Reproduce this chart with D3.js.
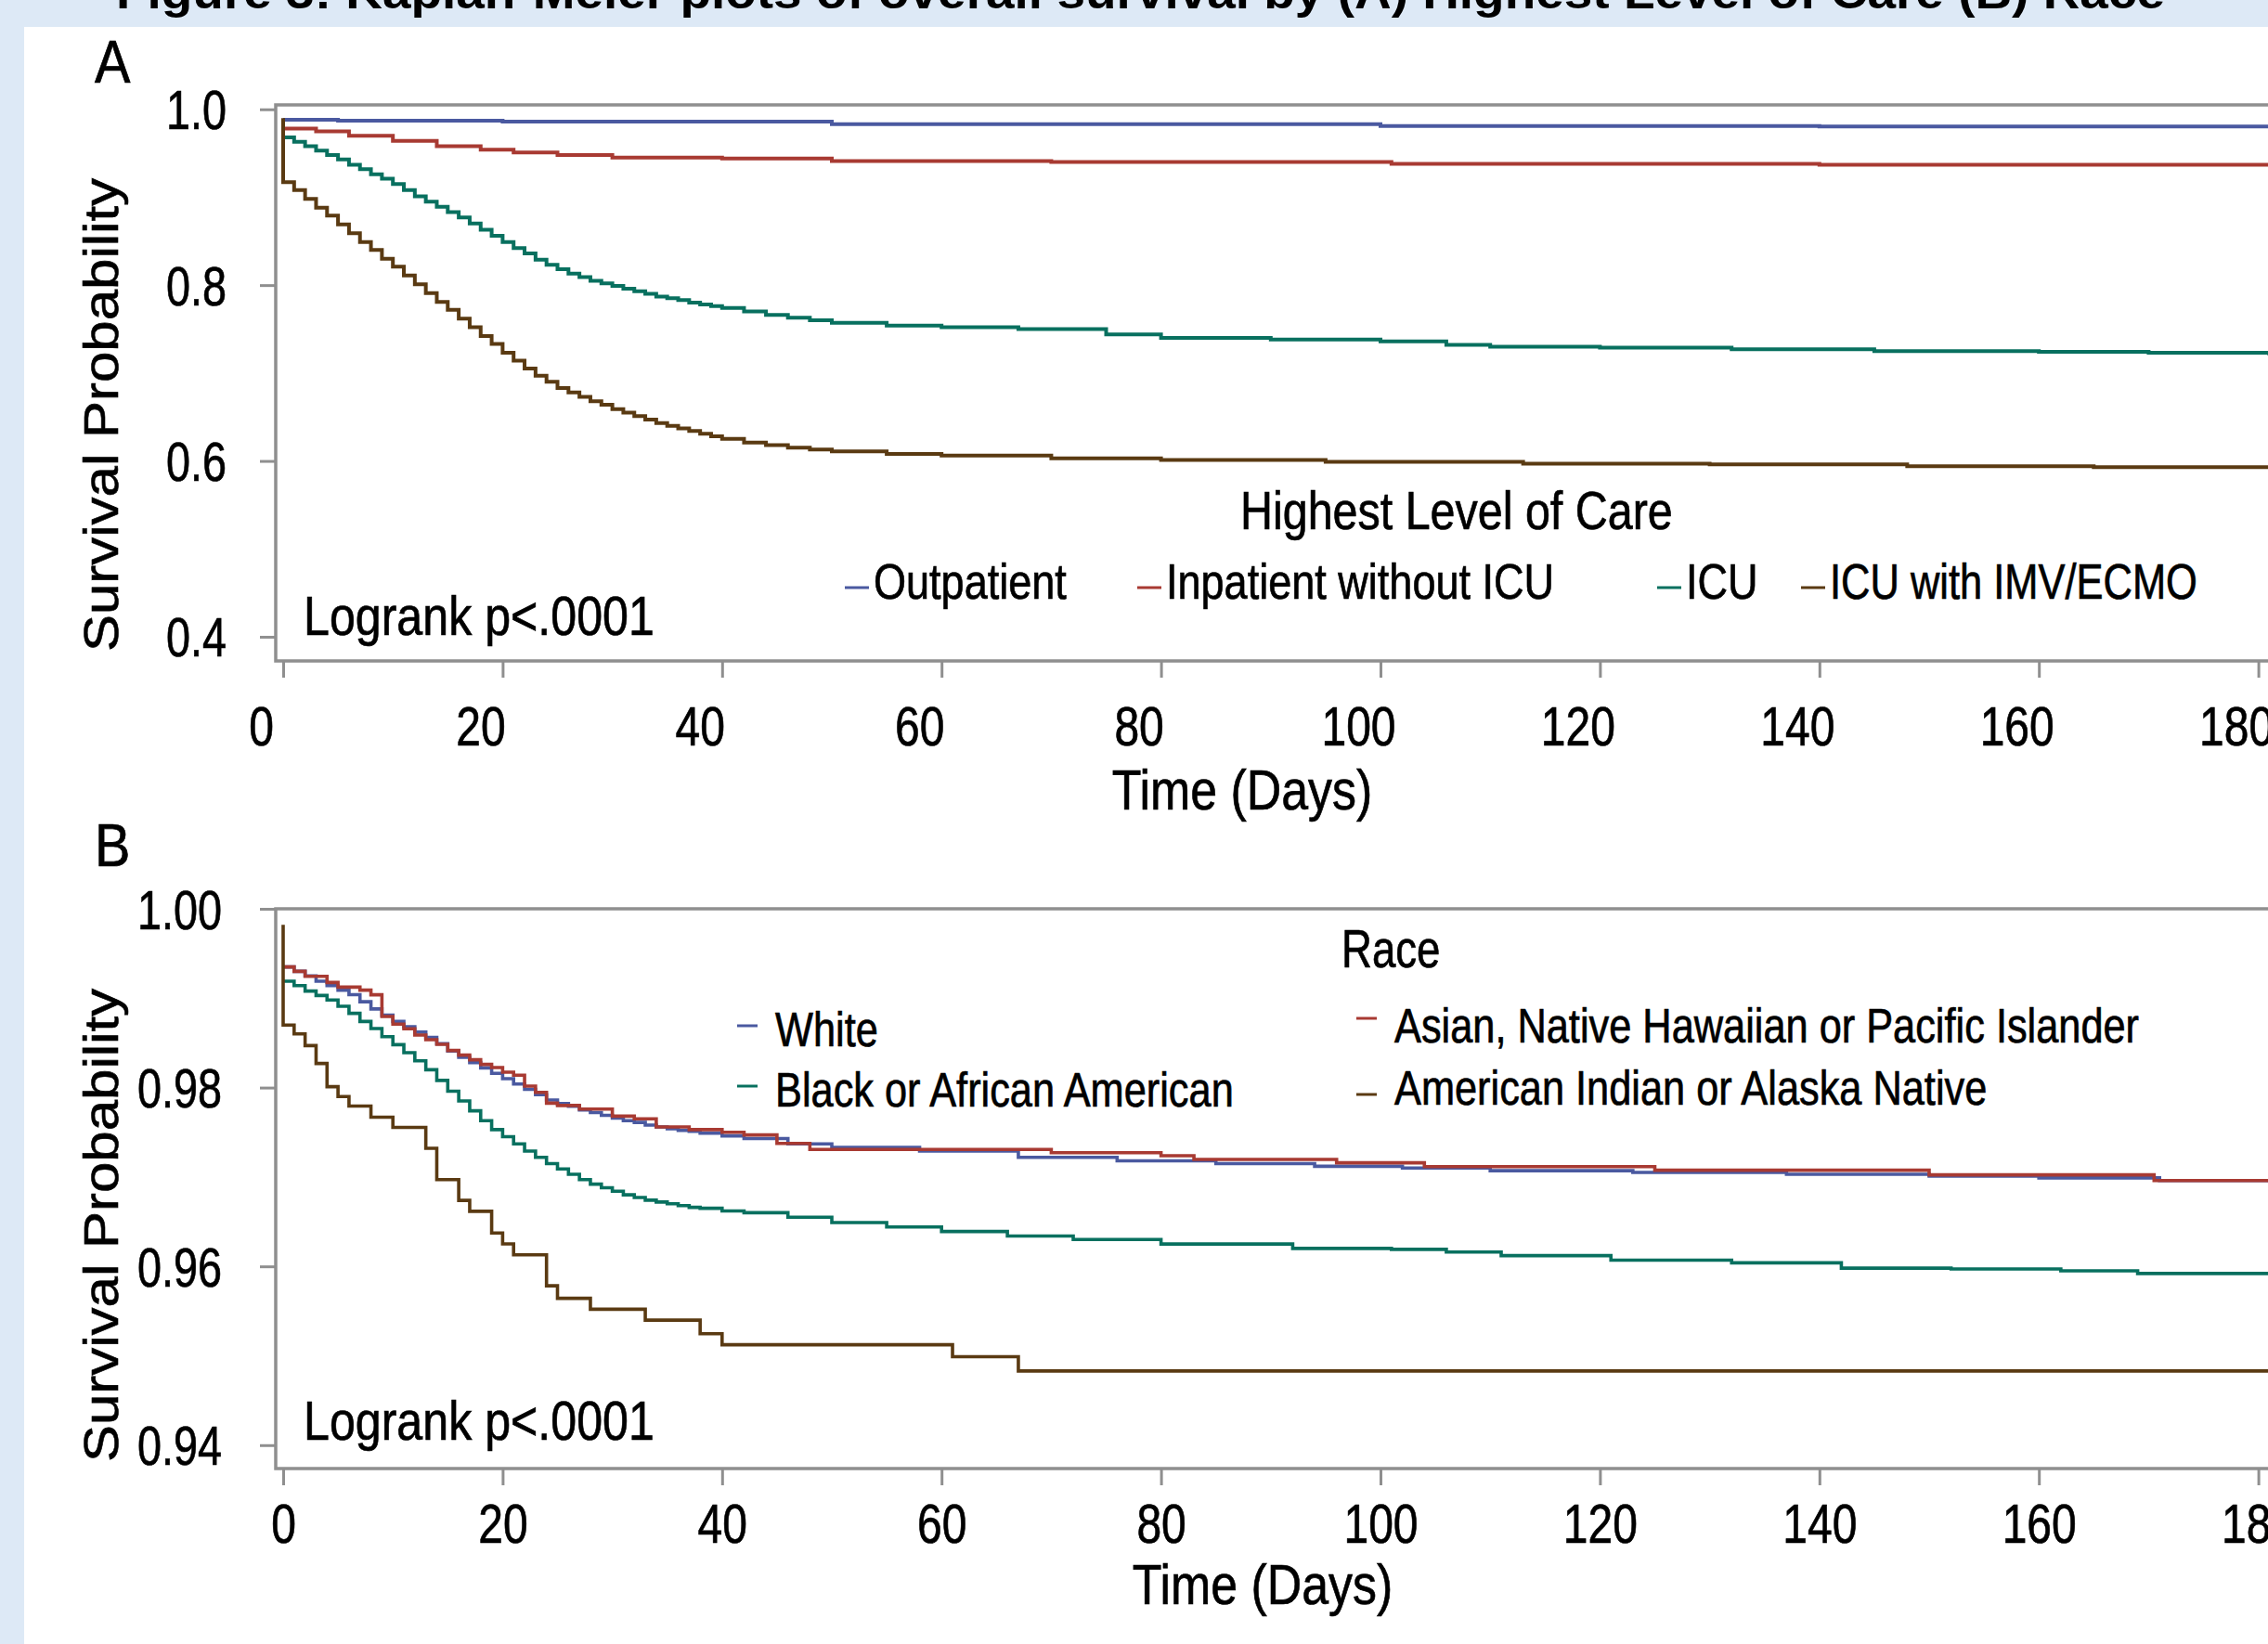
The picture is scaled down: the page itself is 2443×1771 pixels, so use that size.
<!DOCTYPE html>
<html>
<head>
<meta charset="utf-8">
<script src="https://cdn.jsdelivr.net/npm/d3@7"></script>
<style>
  html, body { margin: 0; padding: 0; background: #dde9f6; }
  svg { display: block; }
</style>
</head>
<body>
<div id="viz"></div>
<script>
// Kaplan-Meier survival curves.
// Each series is a list of [day, survival probability] steps.

const TITLE = "Figure 3: Kaplan-Meier plots of overall survival by (A) Highest Level of Care (B) Race";
const DAY_TICKS = [0, 20, 40, 60, 80, 100, 120, 140, 160, 180];
const TICKS_A = [0.4, 0.6, 0.8, 1.0];
const TICKS_B = [0.94, 0.96, 0.98, 1.00];

const CARE_LABELS = ["Outpatient", "Inpatient without ICU", "ICU", "ICU with IMV/ECMO"];
const RACE_LABELS = ["White", "Asian, Native Hawaiian or Pacific Islander",
  "Black or African American", "American Indian or Alaska Native"];

// Panel A: highest level of care
const OUTPATIENT = [[0, 0.988], [5, 0.987], [20, 0.986], [50, 0.983], [100, 0.981], [140, 0.9805], [181, 0.980]];
const INPATIENT = [[0, 0.978], [3, 0.975], [6, 0.970], [10, 0.964], [14, 0.958], [18, 0.954], [21, 0.951],
  [25, 0.948], [30, 0.945], [40, 0.944], [50, 0.941], [70, 0.940], [101, 0.938], [140, 0.937], [181, 0.935]];
const ICU = [[0, 0.968], [1, 0.963], [2, 0.958], [3, 0.953], [4, 0.948], [5, 0.943], [6, 0.937], [7, 0.932],
  [8, 0.926], [9, 0.921], [10, 0.915], [11, 0.908], [12, 0.901], [13, 0.895], [14, 0.889], [15, 0.883],
  [16, 0.877], [17, 0.870], [18, 0.863], [19, 0.856], [20, 0.849], [21, 0.842], [22, 0.836], [23, 0.829],
  [24, 0.823], [25, 0.818], [26, 0.813], [27, 0.809], [28, 0.805], [29, 0.802], [30, 0.799], [31, 0.796],
  [32, 0.793], [33, 0.790], [34, 0.787], [35, 0.785], [36, 0.783], [37, 0.780], [38, 0.778], [39, 0.776],
  [40, 0.774], [42, 0.770], [44, 0.766], [46, 0.763], [48, 0.760], [50, 0.757], [55, 0.754], [60, 0.752],
  [67, 0.750], [75, 0.744], [80, 0.740], [90, 0.738], [100, 0.736], [106, 0.732], [110, 0.730], [120, 0.729],
  [132, 0.727], [145, 0.725], [160, 0.724], [170, 0.723], [181, 0.720]];
const ICU_IMV = [[0, 0.990], [0, 0.917], [1, 0.908], [2, 0.898], [3, 0.888], [4, 0.879], [5, 0.869], [6, 0.859],
  [7, 0.849], [8, 0.840], [9, 0.830], [10, 0.821], [11, 0.811], [12, 0.801], [13, 0.791], [14, 0.781],
  [15, 0.772], [16, 0.762], [17, 0.752], [18, 0.742], [19, 0.733], [20, 0.723], [21, 0.714], [22, 0.705],
  [23, 0.697], [24, 0.690], [25, 0.683], [26, 0.678], [27, 0.673], [28, 0.668], [29, 0.664], [30, 0.659],
  [31, 0.655], [32, 0.651], [33, 0.647], [34, 0.643], [35, 0.640], [36, 0.637], [37, 0.634], [38, 0.631],
  [39, 0.628], [40, 0.625], [42, 0.621], [44, 0.618], [46, 0.615], [48, 0.613], [50, 0.611], [55, 0.608],
  [60, 0.606], [70, 0.603], [80, 0.601], [95, 0.599], [113, 0.597], [130, 0.596], [148, 0.594], [165, 0.593],
  [181, 0.592]];

// Panel B: race
const WHITE = [[0, 0.9935], [1, 0.9930], [2, 0.9925], [3, 0.9919], [4, 0.9914], [5, 0.9909], [6, 0.9904],
  [7, 0.9896], [8, 0.9888], [9, 0.9881], [10, 0.9874], [11, 0.9868], [12, 0.9862], [13, 0.9856], [14, 0.9849],
  [15, 0.9841], [16, 0.9834], [17, 0.9828], [18, 0.9822], [19, 0.9816], [20, 0.9810], [21, 0.9804],
  [22, 0.9798], [23, 0.9792], [24, 0.9786], [25, 0.9782], [26, 0.9779], [27, 0.9775], [28, 0.9772],
  [29, 0.9769], [30, 0.9766], [31, 0.9763], [32, 0.9761], [33, 0.9758], [34, 0.9756], [35, 0.9754],
  [36, 0.9752], [37, 0.9751], [38, 0.9749], [40, 0.9746], [42, 0.9743], [46, 0.9737], [50, 0.9733],
  [58, 0.9729], [67, 0.9722], [76, 0.9718], [85, 0.9715], [94, 0.9712], [102, 0.9710], [110, 0.9707],
  [123, 0.9705], [137, 0.9703], [150, 0.9701], [160, 0.9699], [171, 0.9696], [181, 0.9694]];
const ASIAN = [[0, 0.9935], [1, 0.9930], [2, 0.99245], [4, 0.99176], [5, 0.99124], [7, 0.9909], [8, 0.99038],
  [9, 0.98795], [10, 0.98709], [11, 0.98657], [12, 0.98588], [13, 0.98536], [14, 0.98484], [15, 0.98415],
  [16, 0.98363], [17, 0.98311], [18, 0.98259], [19, 0.98224], [20, 0.98172], [21, 0.98138], [22, 0.98017],
  [23, 0.97947], [24, 0.97826], [25, 0.9780], [27, 0.9776], [30, 0.9768], [32, 0.9765], [34, 0.9756],
  [37, 0.9753], [40, 0.9750], [42, 0.9747], [45, 0.97376], [48, 0.97307], [70, 0.97272], [80, 0.97238],
  [83, 0.97196], [96, 0.97158], [104, 0.97116], [125, 0.97075], [150, 0.97023], [170.5, 0.9696], [181, 0.9696]];
const BLACK = [[0, 0.9919], [1, 0.9914], [2, 0.9908], [3, 0.9903], [4, 0.9898], [5, 0.9891], [6, 0.9883],
  [7, 0.9874], [8, 0.9866], [9, 0.9857], [10, 0.9848], [11, 0.9839], [12, 0.9830], [13, 0.9820], [14, 0.9808],
  [15, 0.9796], [16, 0.9785], [17, 0.9774], [18, 0.9763], [19, 0.9753], [20, 0.9745], [21, 0.9737],
  [22, 0.9729], [23, 0.9722], [24, 0.9715], [25, 0.9709], [26, 0.9703], [27, 0.9697], [28, 0.9692],
  [29, 0.9688], [30, 0.9684], [31, 0.9680], [32, 0.9677], [33, 0.9674], [34, 0.9672], [35, 0.9670],
  [36, 0.9668], [37, 0.9666], [38, 0.9665], [40, 0.9662], [42, 0.9660], [46, 0.9655], [50, 0.9649],
  [55, 0.9644], [60, 0.9639], [66, 0.9634], [72, 0.9630], [80, 0.9625], [92, 0.9620], [101, 0.9619],
  [106, 0.9616], [111, 0.9612], [121, 0.9607], [132, 0.9604], [142, 0.9598], [152, 0.9597], [162, 0.9595],
  [169, 0.9592], [181, 0.9591]];
const AMERICAN_INDIAN = [[0, 0.9982], [0, 0.98700], [1, 0.98600], [2, 0.98470], [3, 0.98270], [4, 0.98010],
  [5, 0.97900], [6, 0.97793], [8, 0.97668], [10, 0.97555], [13, 0.97320], [14, 0.96970], [16, 0.96738],
  [17, 0.96616], [19, 0.96373], [20, 0.96251], [21, 0.96129], [24, 0.95782], [25, 0.95642], [28, 0.95520],
  [33, 0.95398], [38, 0.95246], [40, 0.95123], [61, 0.9499], [67, 0.9483], [181, 0.9483]];

const W = 2443, H = 1771;
const SX = 0.85;   // the poster image is squeezed horizontally
const FONT = "'Liberation Sans', Arial, Helvetica, sans-serif";
const COLORS = ["#4a59a0", "#a83a32", "#08705f", "#5a3a12"];
const FRAME = "#8f8f8f";

const svg = d3.select("#viz").append("svg")
  .attr("width", W)
  .attr("height", H)
  .style("font-family", FONT);

svg.append("rect").attr("width", W).attr("height", H).attr("fill", "#dde9f6");
svg.append("rect").attr("x", 26).attr("y", 29).attr("width", W - 26).attr("height", H - 29).attr("fill", "#fff");

// Poster heading, mostly cut off by the top edge.
svg.append("text")
  .attr("x", 125)
  .attr("y", 9)
  .attr("font-size", 50)
  .attr("font-weight", "bold")
  .attr("textLength", 2207)
  .attr("lengthAdjust", "spacingAndGlyphs")
  .attr("fill", "#000")
  .text(TITLE);

// text is slightly heavier than the plain face in the (resampled) poster
function heavy(sel) {
  return sel.attr("fill", "#000").attr("stroke", "#000").attr("stroke-width", 0.7);
}

function label(parent, x, y, s, size, anchor = "start", sx = SX) {
  return parent.append("text")
    .attr("transform", `translate(${x},${y}) scale(${sx},1)`)
    .attr("text-anchor", anchor)
    .attr("font-size", size)
    .call(heavy)
    .text(s);
}

function drawPanel(p) {
  const g = svg.append("g");
  const x = d3.scaleLinear().domain([0, 180]).range([305, 2432.6]);
  const y = d3.scaleLinear().domain(p.yDomain).range([p.bottom, p.top]);
  const left = x(0) - 8;

  // y axis ticks
  g.append("g")
    .attr("transform", `translate(${left},0)`)
    .call(d3.axisLeft(y).tickValues(p.yTicks).tickSize(17).tickFormat(d3.format(p.yFormat)))
    .call(a => a.select(".domain").remove())
    .call(a => a.selectAll("line").attr("stroke", FRAME).attr("stroke-width", 3))
    .call(a => a.selectAll("text")
      .attr("x", null).attr("dy", null)
      .attr("transform", `translate(${p.yLabelRight - left},${21}) scale(0.78,1)`)
      .attr("font-size", 60).attr("font-family", FONT).call(heavy));

  // x axis ticks
  g.append("g")
    .attr("transform", `translate(0,${p.bottom})`)
    .call(d3.axisBottom(x).tickValues(DAY_TICKS).tickSize(18))
    .call(a => a.select(".domain").remove())
    .call(a => a.selectAll("line").attr("stroke", FRAME).attr("stroke-width", 3))
    .call(a => a.selectAll("text")
      .attr("y", null).attr("dy", null)
      .attr("transform", `translate(${p.xLabelShift},${p.xLabelBase - p.bottom}) scale(0.8,1)`)
      .attr("font-size", 60).attr("font-family", FONT).call(heavy));

  // plot frame: left, top and bottom edges (the right edge is cut off)
  g.append("path")
    .attr("d", `M${W + 10},${p.top}H${left}V${p.bottom}H${W + 10}`)
    .attr("fill", "none")
    .attr("stroke", FRAME)
    .attr("stroke-width", 3.5);

  const line = d3.line()
    .x(d => x(d[0]))
    .y(d => y(d[1]))
    .curve(d3.curveStepAfter);

  g.append("g")
    .selectAll("path")
    .data(p.series)
    .join("path")
    .attr("d", d => line(d.values))
    .attr("fill", "none")
    .attr("stroke", d => d.color)
    .attr("stroke-width", p.lineWidth)
    .attr("stroke-linejoin", "miter");

  label(g, 327, p.logrankBase, "Logrank p<.0001", 59);
  label(g, p.xTitleX, p.xTitleBase, "Time (Days)", 61, "middle");
  g.append("text")
    .attr("transform", `translate(127,${p.yTitleY}) scale(${SX},1) rotate(-90)`)
    .attr("text-anchor", "middle")
    .attr("font-size", 60)
    .call(heavy)
    .text("Survival Probability");
  label(g, 102, p.letterBase, p.letter, 64, "start", 0.9);
  return g;
}

const gA = drawPanel({
  letter: "A", letterBase: 89,
  yDomain: [0.3725, 1.005], top: 113, bottom: 712,
  yTicks: TICKS_A, yFormat: ".1f", yLabelRight: 244,
  xLabelShift: -24, xLabelBase: 803,
  xTitleX: 1338, xTitleBase: 872,
  yTitleY: 447, logrankBase: 684, lineWidth: 4,
  series: [
    { values: OUTPATIENT, color: COLORS[0] },
    { values: INPATIENT, color: COLORS[1] },
    { values: ICU, color: COLORS[2] },
    { values: ICU_IMV, color: COLORS[3] }
  ]
});

const gB = drawPanel({
  letter: "B", letterBase: 933,
  yDomain: [0.93738, 1.0], top: 979, bottom: 1582,
  yTicks: TICKS_B, yFormat: ".2f", yLabelRight: 239,
  xLabelShift: 0, xLabelBase: 1662,
  xTitleX: 1360, xTitleBase: 1728,
  yTitleY: 1320, logrankBase: 1551, lineWidth: 3.6,
  series: [
    { values: WHITE, color: COLORS[0] },
    { values: BLACK, color: COLORS[2] },
    { values: ASIAN, color: COLORS[1] },
    { values: AMERICAN_INDIAN, color: COLORS[3] }
  ]
});

// Legend A: one row, dash attached to the label
label(gA, 1336, 570, "Highest Level of Care", 57);
const legendAX = [910, 1225, 1785, 1940];
CARE_LABELS.forEach((s, i) => {
  gA.append("line")
    .attr("x1", legendAX[i]).attr("x2", legendAX[i] + 26)
    .attr("y1", 633).attr("y2", 633)
    .attr("stroke", COLORS[i]).attr("stroke-width", 3);
  label(gA, legendAX[i] + 31, 645, s, 53, "start", i === 3 ? 0.82 : SX);
});

// Legend B: two columns
label(gB, 1445, 1042, "Race", 57, "start", 0.8);
const legendB = [
  { x: 794, dashY: 1105, base: 1127 },
  { x: 1461, dashY: 1097, base: 1123 },
  { x: 794, dashY: 1170, base: 1192 },
  { x: 1461, dashY: 1179, base: 1190 }
];
const raceColors = [COLORS[0], COLORS[1], COLORS[2], COLORS[3]];
RACE_LABELS.forEach((s, i) => {
  const L = legendB[i];
  gB.append("line")
    .attr("x1", L.x).attr("x2", L.x + 22)
    .attr("y1", L.dashY).attr("y2", L.dashY)
    .attr("stroke", raceColors[i]).attr("stroke-width", 3);
  label(gB, L.x + 41, L.base, s, 51);
});
</script>
</body>
</html>
